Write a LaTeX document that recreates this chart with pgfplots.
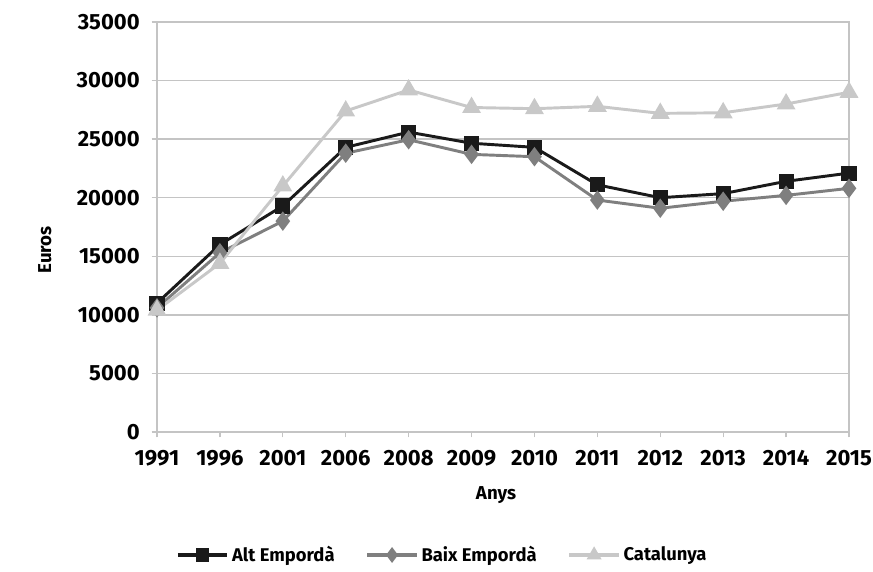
\documentclass[border=0pt]{standalone}
\usepackage{pgfplots}
\pgfplotsset{compat=1.18}
\usepackage{fontspec}
\setmainfont{Fira Sans}
\definecolor{altc}{HTML}{1A1A1A}
\definecolor{baixc}{HTML}{7F7F7F}
\definecolor{catc}{HTML}{C8C8C8}
\definecolor{gridc}{HTML}{C4C4C4}
\begin{document}
\begin{tikzpicture}
\path[use as bounding box] (-117.75pt,-104.25pt) rectangle (537pt,324pt);
\begin{axis}[
  at={(0,0)}, anchor=south west,
  scale only axis, width=519pt, height=307.5pt,
  xmin=0, xmax=11, ymin=0, ymax=35000,
  xtick={0,...,11},
  xticklabels={1991,1996,2001,2006,2008,2009,2010,2011,2012,2013,2014,2015},
  ytick={0,5000,...,35000},
  scaled y ticks=false,
  /pgf/number format/assume math mode=true,
  /pgf/number format/set thousands separator={},
  ymajorgrids, major grid style={gridc, line width=1pt},
  axis line style={gridc, line width=1pt},
  tick style={gridc, line width=1pt},
  tick align=outside, major tick length=4pt,
  xtick pos=bottom, ytick pos=left,
  tick label style={font=\fontsize{16.5}{18}\selectfont\bfseries},
  xticklabel style={yshift=-6pt},
  yticklabel style={xshift=-5.5pt},
  xlabel={Anys}, ylabel={Euros},
  label style={font=\fontsize{14}{16}\selectfont\bfseries},
  xlabel style={at={(rel axis cs:0.49,-0.154)}, anchor=center},
  ylabel style={at={(rel axis cs:-0.162,0.444)}, anchor=center},
  legend columns=3,
  legend style={at={(rel axis cs:0.4126,-0.30)}, anchor=center, draw=none,
    font=\fontsize{13.8}{16}\selectfont\bfseries, /tikz/every even column/.append style={column sep=21pt}},
  legend image code/.code={\draw[#1, line width=3.2pt, mark size=3.3pt, mark repeat=2, mark phase=2] plot coordinates {(0pt,0pt) (18.5pt,0pt) (37pt,0pt)};},
  every axis plot/.append style={line width=2.2pt},
]
\addplot[altc, mark=square*, mark size=4.6pt, mark options={solid}] coordinates {
(0,11000) (1,16000) (2,19300) (3,24300) (4,25600) (5,24650) (6,24300) (7,21100) (8,20000) (9,20350) (10,21400) (11,22100)};
\addlegendentry{Alt Empordà}
\addplot[baixc, mark=diamond*, mark size=5.5pt] coordinates {
(0,10600) (1,15300) (2,18000) (3,23800) (4,24950) (5,23700) (6,23500) (7,19800) (8,19100) (9,19700) (10,20200) (11,20800)};
\addlegendentry{Baix Empordà}
\addplot[catc, mark=triangle*, mark size=6pt] coordinates {
(0,10400) (1,14400) (2,21000) (3,27400) (4,29200) (5,27700) (6,27600) (7,27800) (8,27200) (9,27250) (10,28000) (11,29000)};
\addlegendentry{Catalunya}
\end{axis}
\end{tikzpicture}
\end{document}
